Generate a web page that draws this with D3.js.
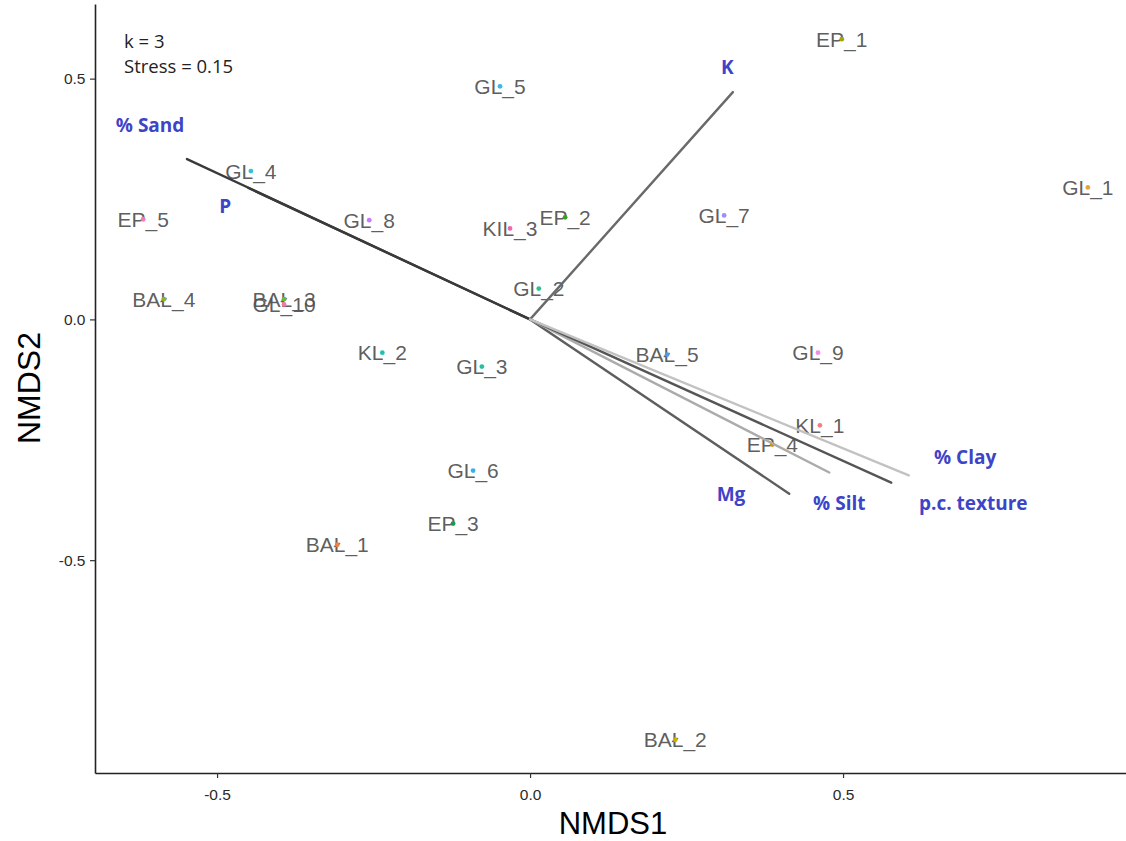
<!DOCTYPE html>
<html><head><meta charset="utf-8">
<script src="https://cdn.jsdelivr.net/npm/d3@7"></script>
<style>body{margin:0;background:#fff}</style>
</head><body><svg id="c" width="1126" height="841"></svg>
<script>
// Site scores (NMDS1, NMDS2)
const siteNames = ["GL_5","EP_1","GL_1","GL_4","EP_5","GL_8","KIL_3","EP_2","GL_7","GL_2","BAŁ_4","BAŁ_3","GL_10","KL_2","GL_3","BAŁ_5","GL_9","KL_1","EP_4","GL_6","EP_3","BAŁ_1","BAŁ_2"];
const siteX = [-0.048,0.498,0.891,-0.446,-0.618,-0.257,-0.032,0.056,0.310,0.014,-0.585,-0.393,-0.393,-0.236,-0.077,0.219,0.460,0.463,0.387,-0.091,-0.123,-0.308,0.232];
const siteY = [0.484,0.582,0.274,0.308,0.208,0.206,0.189,0.212,0.216,0.064,0.042,0.042,0.031,-0.069,-0.098,-0.073,-0.069,-0.220,-0.260,-0.314,-0.424,-0.468,-0.873];
const siteColors = ["#3ab8e6","#a3a500","#e8a33c","#2ec5d6","#f27bb5","#c77cff","#f066b0","#39a020","#9f8cff","#2cc28a","#8ab520","#6cb83a","#f07ab0","#22c0b0","#25c0a0","#4a9cf0","#f58ae0","#f28080","#d89000","#35b0f0","#1a9a50","#f08040","#c8b000"];

// Environmental vectors
const vectorNames = ["% Sand","P","K","Mg","% Silt","p.c. texture","% Clay"];
const vectorX = [-0.548,-0.450,0.324,0.414,0.478,0.577,0.605];
const vectorY = [0.333,0.273,0.472,-0.362,-0.318,-0.339,-0.324];
const vectorLabelX = [-0.607,-0.487,0.315,0.321,0.494,0.708,0.695];
const vectorLabelY = [0.403,0.235,0.524,-0.364,-0.381,-0.383,-0.287];
const vectorShades = ["#3a3a3a","#3a3a3a","#6a6a6a","#5e5e5e","#ababab","#555555","#c2c2c2"];

const xTicks = [-0.5, 0.0, 0.5];
const yTicks = [-0.5, 0.0, 0.5];
const annotation = ["k = 3", "Stress = 0.15"];

const svg = d3.select("#c");
const x = d3.scaleLinear().domain([-0.695, 0.952]).range([95, 1126]);
const y = d3.scaleLinear().domain([-0.942, 0.655]).range([773, 4]);

// axes
const fmt = v => v.toFixed(1);
const xAxis = svg.append("g").attr("transform", `translate(0,${y.range()[0]})`)
  .call(d3.axisBottom(x).tickValues(xTicks).tickFormat(fmt).tickSize(5).tickSizeOuter(0));
const yAxis = svg.append("g").attr("transform", `translate(${x.range()[0]},0)`)
  .call(d3.axisLeft(y).tickValues(yTicks).tickFormat(fmt).tickSize(5).tickSizeOuter(0));
[xAxis, yAxis].forEach(a => {
  a.select(".domain").attr("stroke", "#222").attr("stroke-width", 1.6);
  a.selectAll(".tick line").attr("stroke", "#333").attr("stroke-width", 1.2);
  a.selectAll(".tick text").attr("font-family", "Liberation Sans, Arial, sans-serif")
    .attr("font-size", 15.5).attr("fill", "#2a2a2a");
});
xAxis.selectAll(".tick text").attr("dy", "1.2em");
yAxis.selectAll(".tick text").attr("dx", "-0.1em");

// axis titles
svg.append("text").attr("x", 613).attr("y", 834)
  .attr("text-anchor", "middle").attr("font-family", "Liberation Sans, Arial, sans-serif")
  .attr("font-size", 31).attr("fill", "#000").text("NMDS1");
svg.append("text").attr("transform", "translate(40,388) rotate(-90)")
  .attr("text-anchor", "middle").attr("font-family", "Liberation Sans, Arial, sans-serif")
  .attr("font-size", 32).attr("fill", "#000").text("NMDS2");

// site labels
const sites = siteNames.map((n, i) => ({n, x: siteX[i], y: siteY[i], c: siteColors[i]}));
svg.append("g").selectAll("text").data(sites).join("text")
  .attr("x", d => x(d.x)).attr("y", d => y(d.y))
  .attr("dy", "0.36em").attr("text-anchor", "middle")
  .attr("font-family", "Liberation Sans, Arial, sans-serif").attr("font-size", 21)
  .attr("fill", "#555").attr("fill-opacity", 0.95).text(d => d.n);
svg.append("g").selectAll("circle").data(sites).join("circle")
  .attr("cx", d => x(d.x)).attr("cy", d => y(d.y)).attr("r", 2.4).attr("fill", d => d.c);

// vectors
const vecs = vectorNames.map((n, i) => ({n, x: vectorX[i], y: vectorY[i], lx: vectorLabelX[i], ly: vectorLabelY[i], c: vectorShades[i]}));
svg.append("g").selectAll("line").data(vecs).join("line")
  .attr("x1", x(0)).attr("y1", y(0)).attr("x2", d => x(d.x)).attr("y2", d => y(d.y))
  .attr("stroke", d => d.c).attr("stroke-width", 2.4).attr("stroke-linecap", "round");
svg.append("g").selectAll("text").data(vecs).join("text")
  .attr("x", d => x(d.lx)).attr("y", d => y(d.ly)).attr("dy", "0.35em")
  .attr("text-anchor", "middle").attr("font-family", "Open Sans, sans-serif")
  .attr("font-weight", "bold").attr("font-size", 19).attr("fill", "#3d44c8").text(d => d.n);

// annotation
svg.append("g").selectAll("text").data(annotation).join("text")
  .attr("x", 124).attr("y", (d, i) => 48 + i * 25)
  .attr("font-family", "Open Sans, sans-serif").attr("font-size", 18.5).attr("fill", "#222").text(d => d);
</script></body></html>
